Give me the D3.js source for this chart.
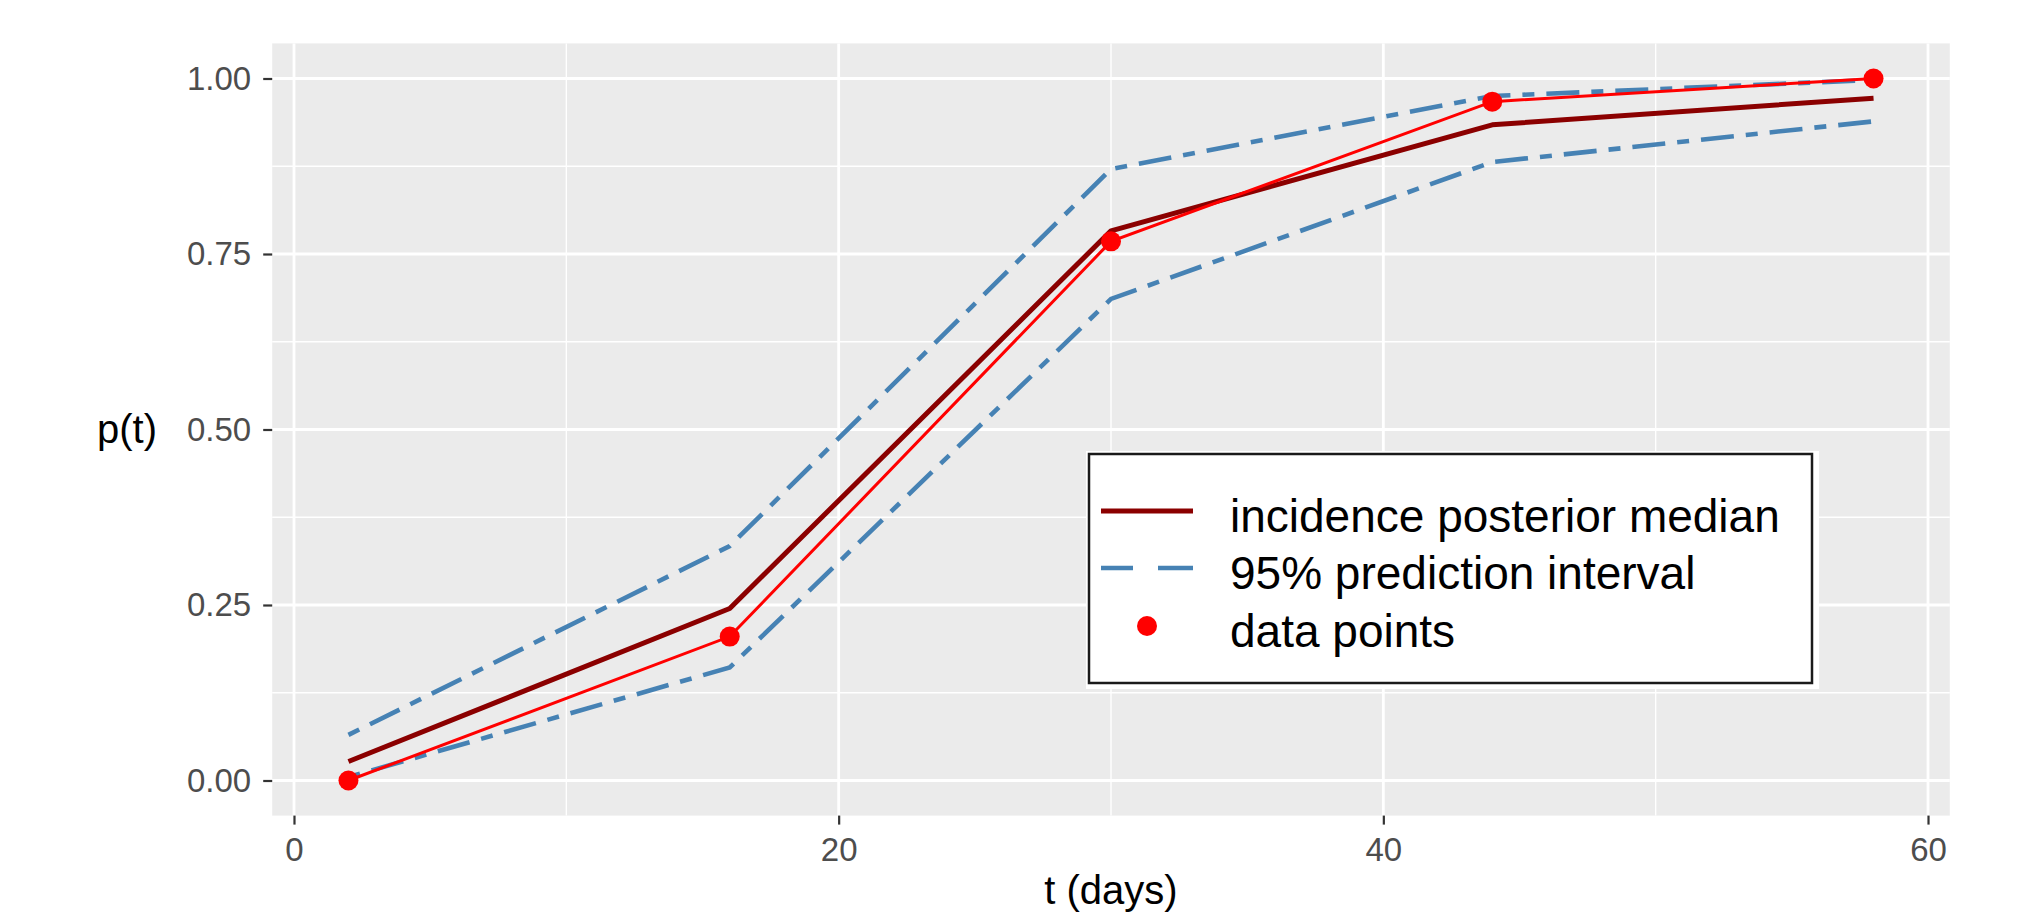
<!DOCTYPE html>
<html>
<head>
<meta charset="utf-8">
<script src="https://cdn.jsdelivr.net/npm/d3@7/dist/d3.min.js"></script>
<style>
	body { margin: 0; background: #fff; }
	svg { display: block; font-family: "Liberation Sans", Arial, sans-serif; }
</style>
</head>
<body>
<div id="chart"></div>
<script>
// sampling days
var days = [2, 16, 30, 44, 58];
// observed proportions
var observed = [0, 0.205, 0.768, 0.967, 1.0];
// posterior median of incidence
var median = [0.027, 0.245, 0.783, 0.934, 0.972];
// 95% prediction interval
var lower = [0.005, 0.161, 0.686, 0.881, 0.939];
var upper = [0.065, 0.334, 0.871, 0.975, 0.998];

var xTicks = [0, 20, 40, 60];
var xMinor = [10, 30, 50];
var yTicks = [0, 0.25, 0.5, 0.75, 1];
var yMinor = [0.125, 0.375, 0.625, 0.875];

var legendLabels = ['incidence posterior median', '95% prediction interval', 'data points'];

var width = 2022, height = 915;
var margin = {top: 43.4, right: 72.2, bottom: 99.4, left: 272.2};

var svg = d3.select('#chart').append('svg')
	.attr('width', width)
	.attr('height', height);

var x = d3.scaleLinear().domain([-0.8, 60.8]).range([margin.left, width - margin.right]);
var y = d3.scaleLinear().domain([-0.05, 1.05]).range([height - margin.bottom, margin.top]);

/*
 * panel + grid
 */
svg.append('rect')
	.attr('x', x.range()[0]).attr('y', y.range()[1])
	.attr('width', x.range()[1] - x.range()[0])
	.attr('height', y.range()[0] - y.range()[1])
	.attr('fill', '#ebebeb');

var grid = svg.append('g').attr('stroke', '#fff');
grid.selectAll('.xminor').data(xMinor).enter().append('line')
	.attr('x1', x).attr('x2', x)
	.attr('y1', y.range()[0]).attr('y2', y.range()[1])
	.attr('stroke-width', 1.4);
grid.selectAll('.yminor').data(yMinor).enter().append('line')
	.attr('y1', y).attr('y2', y)
	.attr('x1', x.range()[0]).attr('x2', x.range()[1])
	.attr('stroke-width', 1.4);
grid.selectAll('.xmajor').data(xTicks).enter().append('line')
	.attr('x1', x).attr('x2', x)
	.attr('y1', y.range()[0]).attr('y2', y.range()[1])
	.attr('stroke-width', 2.8);
grid.selectAll('.ymajor').data(yTicks).enter().append('line')
	.attr('y1', y).attr('y2', y)
	.attr('x1', x.range()[0]).attr('x2', x.range()[1])
	.attr('stroke-width', 2.8);

/*
 * axes
 */
var xAxis = d3.axisBottom(x).tickValues(xTicks).tickSize(9).tickPadding(13).tickFormat(d3.format('d'));
var yAxis = d3.axisLeft(y).tickValues(yTicks).tickSize(9).tickPadding(12).tickFormat(d3.format('.2f'));

function styleAxis(g) {
	g.select('.domain').remove();
	g.selectAll('line').attr('stroke', '#333').attr('stroke-width', 2.2);
	g.selectAll('text').attr('fill', '#4d4d4d').style('font-size', '33px');
}

svg.append('g')
	.attr('transform', 'translate(0,' + y.range()[0] + ')')
	.call(xAxis).call(styleAxis);
svg.append('g')
	.attr('transform', 'translate(' + x.range()[0] + ',0)')
	.call(yAxis).call(styleAxis);

svg.append('text')
	.attr('x', (x.range()[0] + x.range()[1]) / 2)
	.attr('y', 904)
	.attr('text-anchor', 'middle')
	.style('font-size', '40px')
	.attr('fill', '#000')
	.text('t (days)');

svg.append('text')
	.attr('x', 97)
	.attr('y', 443)
	.style('font-size', '40px')
	.attr('fill', '#000')
	.text('p(t)');

/*
 * lines
 */
var line = d3.line()
	.x(function(d) { return x(d[0]); })
	.y(function(d) { return y(d[1]); });

function pairs(vals) {
	return days.map(function(t, i) { return [t, vals[i]]; });
}

[lower, upper].forEach(function(vals) {
	svg.append('path')
		.datum(pairs(vals))
		.attr('d', line)
		.attr('fill', 'none')
		.attr('stroke', 'steelblue')
		.attr('stroke-width', 4.6)
		.attr('stroke-dasharray', '12,12,33,12');
});

svg.append('path')
	.datum(pairs(median))
	.attr('d', line)
	.attr('fill', 'none')
	.attr('stroke', 'darkred')
	.attr('stroke-width', 5)
	.attr('stroke-linejoin', 'round');

svg.append('path')
	.datum(pairs(observed))
	.attr('d', line)
	.attr('fill', 'none')
	.attr('stroke', 'red')
	.attr('stroke-width', 3);

svg.selectAll('.pt')
	.data(pairs(observed))
	.enter().append('circle')
		.attr('class', 'pt')
		.attr('cx', function(d) { return x(d[0]); })
		.attr('cy', function(d) { return y(d[1]); })
		.attr('r', 10)
		.attr('fill', 'red');

/*
 * legend
 */
var lg = svg.append('g');
lg.append('rect')
	.attr('x', 1086).attr('y', 451)
	.attr('width', 733).attr('height', 238)
	.attr('fill', '#fff');
lg.append('rect')
	.attr('x', 1089).attr('y', 454)
	.attr('width', 723).attr('height', 229)
	.attr('fill', 'none')
	.attr('stroke', '#1a1a1a')
	.attr('stroke-width', 2.5);

var rowY = [511, 568, 626];

lg.append('line')
	.attr('x1', 1101).attr('x2', 1193)
	.attr('y1', rowY[0]).attr('y2', rowY[0])
	.attr('stroke', 'darkred').attr('stroke-width', 5);
lg.append('line')
	.attr('x1', 1101).attr('x2', 1193)
	.attr('y1', rowY[1]).attr('y2', rowY[1])
	.attr('stroke', 'steelblue').attr('stroke-width', 4.6)
	.attr('stroke-dasharray', '32,25,35');
lg.append('circle')
	.attr('cx', 1147).attr('cy', rowY[2])
	.attr('r', 10)
	.attr('fill', 'red');

lg.selectAll('.lbl')
	.data(legendLabels)
	.enter().append('text')
		.attr('class', 'lbl')
		.attr('x', 1230)
		.attr('y', function(d, i) { return rowY[i] + 21; })
		.style('font-size', '46px')
		.attr('fill', '#000')
		.text(function(d) { return d; });
</script>
</body>
</html>
